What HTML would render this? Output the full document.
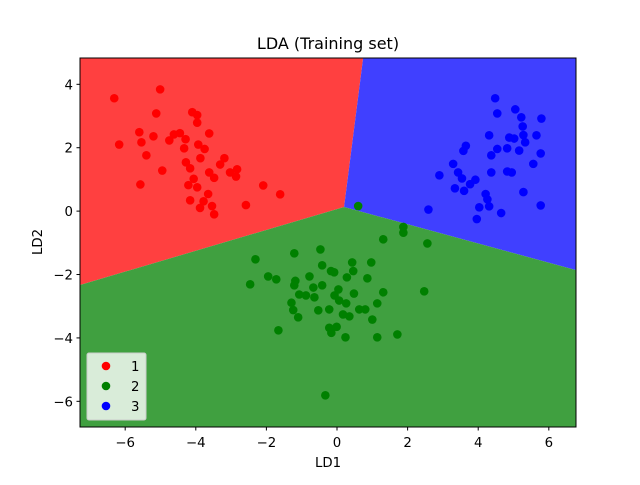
<!DOCTYPE html>
<html><head><meta charset="utf-8"><style>
body{margin:0;background:#fff;font-family:"Liberation Sans","DejaVu Sans",sans-serif}
svg text{font-family:"DejaVu Sans","Liberation Sans",sans-serif}
</style></head><body>
<svg id="chart" width="640" height="480" xmlns="http://www.w3.org/2000/svg"></svg>
<script>
const redX=[-6.31,-5.01,-5.12,-4.10,-3.96,-3.96,-5.60,-5.20,-5.54,-6.17,-4.62,-4.45,-4.29,-4.75,-4.33,-3.93,-3.75,-3.62,-5.40,-3.87,-3.19,-3.31,-4.28,-4.16,-4.95,-3.62,-3.48,-3.03,-2.83,-2.86,-4.06,-4.21,-3.96,-5.57,-3.65,-2.09,-1.61,-4.16,-3.78,-3.88,-3.54,-3.48,-2.58];
const redY=[3.56,3.84,3.08,3.12,3.03,2.79,2.49,2.36,2.17,2.10,2.42,2.46,2.27,2.23,1.98,2.10,1.96,2.45,1.76,1.67,1.67,1.47,1.54,1.35,1.28,1.22,1.05,1.22,1.32,1.09,1.02,0.82,0.75,0.84,0.54,0.81,0.53,0.34,0.31,0.10,0.16,-0.10,0.19];
const greenX=[0.60,1.88,1.88,1.31,2.56,-2.31,-1.21,-0.47,-0.42,0.43,0.97,-0.17,-0.08,0.46,0.28,0.86,-1.95,-1.72,-0.78,-2.46,-1.18,-1.21,-0.67,-0.42,0.04,-0.07,0.48,1.31,2.47,-1.07,-0.88,-0.64,0.06,0.26,1.14,-1.29,-1.24,-1.10,-0.53,-0.22,0.63,0.80,0.17,0.35,1.00,-1.66,-0.22,-0.01,-0.16,0.24,1.14,1.71,-0.33];
const greenY=[0.16,-0.50,-0.68,-0.89,-1.02,-1.52,-1.33,-1.21,-1.71,-1.62,-1.62,-1.89,-1.93,-1.89,-2.09,-2.12,-2.06,-2.15,-2.06,-2.31,-2.20,-2.34,-2.41,-2.34,-2.47,-2.66,-2.60,-2.56,-2.53,-2.63,-2.66,-2.72,-2.82,-2.91,-2.91,-2.89,-3.12,-3.35,-3.13,-3.10,-3.10,-3.10,-3.26,-3.32,-3.42,-3.76,-3.68,-3.65,-3.84,-3.98,-3.98,-3.89,-5.81];
const blueX=[4.48,4.54,5.05,5.22,5.79,5.26,4.31,4.88,5.02,5.28,5.65,5.33,3.65,3.58,4.54,4.82,5.16,4.37,5.77,5.56,3.29,2.90,3.43,4.37,4.82,4.95,3.54,3.92,3.77,3.34,3.60,4.21,4.26,5.28,2.59,4.03,4.31,4.65,5.77,3.96];
const blueY=[3.56,3.08,3.21,2.96,2.92,2.67,2.39,2.32,2.29,2.40,2.39,2.17,2.06,1.90,1.96,1.98,1.91,1.76,1.82,1.49,1.49,1.13,1.22,1.22,1.25,1.22,1.03,0.99,0.85,0.72,0.64,0.54,0.37,0.60,0.05,0.12,0.15,-0.06,0.18,-0.25];
const xTicks=[-6,-4,-2,0,2,4,6];
const yTicks=[-6,-4,-2,0,2,4];
const legendLabels=["1","2","3"];

const NS="http://www.w3.org/2000/svg";
const svg=document.getElementById('chart');
const L=80,R=576,T=58,B=427;
const xmin=-7.28,xmax=6.77,ymin=-6.81,ymax=4.83;
const sx=v=>L+(v-xmin)/(xmax-xmin)*(R-L);
const sy=v=>B-(v-ymin)/(ymax-ymin)*(B-T);
function mk(tag,attrs,parent){const e=document.createElementNS(NS,tag);for(const k in attrs)e.setAttribute(k,attrs[k]);(parent||svg).appendChild(e);return e;}

const cx=0.2,cy=0.13;
const regions=[
 {name:'region-class-1',fill:'#ff4040',pts:[[xmin,ymax],[0.74,ymax],[cx,cy],[xmin,-2.33]]},
 {name:'region-class-3',fill:'#4040ff',pts:[[0.74,ymax],[xmax,ymax],[xmax,-1.86],[cx,cy]]},
 {name:'region-class-2',fill:'#40a040',pts:[[xmin,-2.33],[cx,cy],[xmax,-1.86],[xmax,ymin],[xmin,ymin]]}
];
regions.forEach(r=>{
 const p=mk('polygon',{points:r.pts.map(q=>sx(q[0])+','+sy(q[1])).join(' '),fill:r.fill});
 
 
});

function scatter(xs,ys,col,name){
 const g=mk('g',{});
 
 
 xs.forEach((x,i)=>{
  const c=mk('circle',{cx:sx(x),cy:sy(ys[i]),r:4.3,fill:col},g);
  
  
 });
}
scatter(redX,redY,'#ff0000','series-class-1');
scatter(greenX,greenY,'#008000','series-class-2');
scatter(blueX,blueY,'#0000ff','series-class-3');

const fr=mk('rect',{x:L,y:T,width:R-L,height:B-T,fill:'none',stroke:'#000','stroke-width':1});



xTicks.forEach(t=>{
 const x=sx(t);
 mk('line',{x1:x,x2:x,y1:B,y2:B+3.5,stroke:'#000'});
 const tx=mk('text',{x:x,y:B+20,'text-anchor':'middle','font-size':13.3});
 tx.textContent=t<0?'\u2212'+(-t):t;
 
 
});
yTicks.forEach(t=>{
 const y=sy(t);
 mk('line',{x1:L-3.5,x2:L,y1:y,y2:y,stroke:'#000'});
 const tx=mk('text',{x:L-7,y:y+5,'text-anchor':'end','font-size':13.3});
 tx.textContent=t<0?'\u2212'+(-t):t;
 
 
});

const title=mk('text',{x:(L+R)/2,y:49,'text-anchor':'middle','font-size':16});
title.textContent='LDA (Training set)';


const xl=mk('text',{x:(L+R)/2,y:467,'text-anchor':'middle','font-size':13.3});
xl.textContent='LD1';


const yl=mk('text',{x:0,y:0,'text-anchor':'middle','font-size':13.3,transform:'translate(42,242) rotate(-90)'});
yl.textContent='LD2';



const lg=mk('g',{});


mk('rect',{x:87,y:353,width:59,height:67,rx:2,fill:'#fff','fill-opacity':0.8,stroke:'#ccc'},lg);
const cols=['#ff0000','#008000','#0000ff'];
legendLabels.forEach((lab,i)=>{
 const y=366+i*20;
 const e=mk('g',{},lg);
 
 
 mk('circle',{cx:106,cy:y,r:4.3,fill:cols[i]},e);
 const t=mk('text',{x:131,y:y+5,'font-size':13.3},e);
 t.textContent=lab;
});
</script>
</body></html>
